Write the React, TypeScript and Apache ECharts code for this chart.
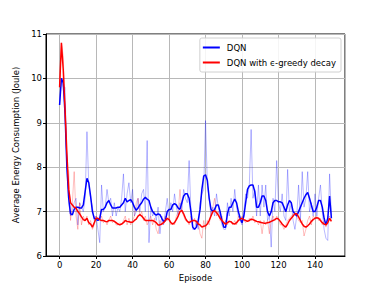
import React, { useEffect, useRef } from "react";
import * as echarts from "echarts";

const dqnRaw = [
  9.4, 10.0, 9.8, 9.8, 8.0, 7.2, 6.9, 7.0, 7.2, 7.3, 6.7, 7.2, 7.1, 7.0, 7.3, 8.8, 7.6, 7.3, 7.1, 6.8,
  6.9, 6.6, 6.3, 7.6, 7.0, 7.1, 7.5, 7.2, 7.3, 6.9, 7.2, 6.9, 7.1, 7.0, 7.3, 7.85, 7.0, 7.4, 7.65, 7.2,
  7.5, 6.9, 7.0, 7.3, 7.0, 7.4, 7.5, 7.0, 8.6, 6.3, 7.1, 6.9, 7.0, 6.8, 7.1, 6.5, 6.9, 6.7, 7.0, 7.3,
  6.9, 7.2, 7.0, 7.4, 7.1, 6.9, 7.2, 7.0, 7.5, 7.3, 7.2, 8.15, 7.0, 6.6, 6.6, 6.8, 6.6, 7.2, 7.4, 7.5,
  9.05, 7.6, 7.3, 6.9, 7.1, 6.9, 7.4, 7.1, 6.9, 6.7, 6.6, 6.6, 7.2, 6.9, 7.3, 7.0, 7.5, 7.1, 6.9, 6.8,
  6.7, 7.0, 7.4, 7.3, 7.6, 8.85, 7.3, 7.5, 6.9, 7.6, 6.9, 7.6, 7.1, 7.6, 6.8, 6.9, 6.2, 7.3, 7.0, 8.15,
  7.2, 7.0, 7.4, 6.9, 6.8, 7.95, 7.0, 7.2, 6.8, 6.6, 6.9, 7.6, 6.8, 7.9, 7.1, 7.3, 7.9, 7.0, 7.2, 6.9,
  7.4, 6.9, 7.3, 7.6, 7.0, 6.6, 6.4, 6.35, 7.85, 6.9,
];

const dqnSmooth = [
  9.4, 10.0, 9.9, 9.2, 8.0, 7.3, 6.95, 6.93, 7.05, 7.1, 7.1, 7.08, 7.08, 7.15, 7.45, 7.75, 7.65, 7.35, 7.0, 6.85,
  6.83, 6.8, 6.85, 7.05, 7.05, 7.1, 7.2, 7.25, 7.15, 7.08, 7.08, 7.08, 7.1, 7.1, 7.15, 7.2, 7.3, 7.22, 7.25, 7.27,
  7.2, 7.1, 7.03, 7.08, 7.15, 7.2, 7.28, 7.32, 7.28, 7.25, 7.1, 7.0, 6.95, 6.92, 6.95, 6.93, 6.85, 6.78, 6.8, 7.0,
  7.05, 7.05, 7.15, 7.18, 7.15, 7.08, 7.05, 7.2, 7.35, 7.4, 7.4, 7.3, 7.0, 6.65, 6.6, 6.65, 6.8, 7.05, 7.5, 7.8,
  7.83, 7.7, 7.3, 7.05, 7.0, 7.05, 7.15, 7.15, 7.0, 6.8, 6.65, 6.65, 6.95, 7.1, 7.1, 7.2, 7.28, 7.2, 7.0, 6.85,
  6.75, 6.9, 7.2, 7.5, 7.58, 7.6, 7.6, 7.45, 7.1, 7.1, 7.2, 7.35, 7.35, 7.25, 7.0, 6.9, 7.0, 7.2, 7.25, 7.25,
  7.22, 7.22, 7.2, 7.1, 7.0, 7.15, 7.25, 7.2, 7.0, 6.95, 6.9, 7.0, 7.1, 7.2, 7.3, 7.38, 7.43, 7.3, 7.15, 7.0,
  7.0, 7.1, 7.25, 7.25, 7.1, 6.85, 6.7, 6.85, 7.35, 6.85,
];

const decayRaw = [
  9.8, 10.8, 10.5, 9.2, 8.0, 7.9, 6.8, 7.2, 7.9, 6.9, 6.6, 7.2, 6.7, 6.9, 6.8, 6.9, 6.7, 6.8, 6.6, 6.7,
  6.9, 6.8, 6.8, 6.9, 6.75, 6.8, 6.7, 6.8, 6.9, 6.75, 6.8, 6.7, 6.7, 6.75, 6.7, 6.8, 6.9, 6.7, 6.85, 6.7,
  6.8, 6.9, 7.2, 7.3, 6.9, 7.0, 6.8, 6.9, 6.7, 6.8, 6.9, 6.7, 6.85, 6.6, 6.5, 6.8, 6.7, 6.8, 6.9, 6.8,
  6.9, 6.7, 6.75, 6.7, 6.9, 7.0, 7.5, 7.0, 6.9, 6.8, 6.8, 6.7, 6.9, 6.75, 6.85, 6.7, 6.8, 6.5, 6.4, 6.8,
  6.6, 6.8, 6.7, 7.0, 7.1, 7.3, 6.9, 7.0, 6.8, 6.9, 6.7, 6.8, 6.7, 6.8, 6.75, 6.7, 6.8, 6.7, 6.9, 6.8,
  6.9, 6.8, 6.75, 6.8, 6.85, 6.8, 6.9, 6.75, 6.8, 6.7, 6.8, 6.5, 6.8, 6.7, 6.8, 6.5, 6.8, 6.9, 6.8, 6.9,
  6.85, 6.7, 6.7, 6.6, 6.7, 6.8, 6.85, 6.9, 6.95, 7.0, 6.9, 6.8, 6.75, 6.8, 6.45, 6.6, 6.8, 6.9, 6.7, 6.9,
  6.85, 6.9, 6.8, 6.85, 6.7, 6.8, 6.65, 6.8, 6.9, 6.8,
];

const decaySmooth = [
  9.8, 10.8, 10.2, 9.3, 8.3, 7.5, 7.2, 7.15, 7.1, 7.08, 7.0, 6.95, 6.88, 6.82, 6.8, 6.85, 6.75, 6.72, 6.65, 6.75,
  6.85, 6.85, 6.82, 6.8, 6.8, 6.78, 6.77, 6.8, 6.8, 6.8, 6.78, 6.75, 6.72, 6.7, 6.72, 6.75, 6.8, 6.78, 6.77, 6.76,
  6.76, 6.8, 6.83, 6.9, 6.93, 6.9, 6.85, 6.8, 6.8, 6.8, 6.8, 6.8, 6.78, 6.75, 6.7, 6.7, 6.72, 6.75, 6.8, 6.85,
  6.82, 6.75, 6.72, 6.75, 6.82, 6.9, 7.0, 7.03, 6.95, 6.85, 6.78, 6.75, 6.78, 6.8, 6.8, 6.78, 6.72, 6.7, 6.65, 6.67,
  6.68, 6.72, 6.8, 6.9, 7.0, 7.02, 6.98, 6.92, 6.85, 6.8, 6.75, 6.72, 6.75, 6.78, 6.77, 6.73, 6.72, 6.75, 6.8, 6.83,
  6.85, 6.82, 6.8, 6.78, 6.8, 6.83, 6.82, 6.8, 6.78, 6.77, 6.76, 6.75, 6.74, 6.74, 6.75, 6.76, 6.78, 6.8, 6.82, 6.85,
  6.83, 6.78, 6.72, 6.68, 6.65, 6.72, 6.8, 6.85, 6.9, 6.95, 6.95, 6.88, 6.8, 6.72, 6.67, 6.65, 6.68, 6.72, 6.78, 6.82,
  6.85, 6.86, 6.85, 6.8, 6.75, 6.72, 6.7, 6.75, 6.85, 6.78,
];

const seriesNames = ["DQN", "DQN with \u03f5-greedy decay"];
const xTitle = "Episode";
const yTitle = "Average Energy Consumption (Joule)";

const toPairs = (arr: number[]) => arr.map((v, i) => [i, v]);

export default function App() {
  const ref = useRef<HTMLDivElement>(null);
  useEffect(() => {
    if (!ref.current) return;
    const chart = echarts.init(ref.current, null, { renderer: "svg" });
    const font = "DejaVu Sans";
    const lineStyleBase = { type: "line" as const, showSymbol: false, symbol: "none", silent: true };
    chart.setOption({
      animation: false,
      textStyle: { fontFamily: font },
      grid: {
        left: 46,
        right: 39,
        top: 34,
        bottom: 32,
        show: true,
        borderColor: "#000",
        borderWidth: 1,
        backgroundColor: "transparent",
      },
      legend: {
        data: seriesNames.map((n) => ({ name: n, icon: "rect" })),
        orient: "vertical",
        right: 43,
        top: 38,
        itemWidth: 17,
        itemHeight: 2,
        itemGap: 6,
        padding: [5, 5, 5, 3],
        backgroundColor: "rgba(255,255,255,0.85)",
        borderColor: "#d0d0d0",
        borderWidth: 1,
        borderRadius: 2,
        textStyle: { fontFamily: font, fontSize: 8.5, color: "#000", padding: [0, 0, 0, 2] },
      },
      xAxis: {
        type: "value",
        min: -7.45,
        max: 156.45,
        splitNumber: 8,
        name: xTitle,
        nameLocation: "middle",
        nameGap: 14,
        nameTextStyle: { fontFamily: font, fontSize: 8.5, color: "#000" },
        axisLine: { show: true, onZero: false, lineStyle: { color: "#000", width: 1 } },
        axisTick: { show: true, length: 3, lineStyle: { color: "#000" } },
        axisLabel: {
          showMinLabel: false,
          showMaxLabel: false,
          fontFamily: font,
          fontSize: 8.5,
          color: "#000",
          margin: 4,
        },
        splitLine: { show: true, lineStyle: { color: "#b8b8b8", width: 1 } },
      },
      yAxis: {
        type: "value",
        min: 6,
        max: 11,
        interval: 1,
        name: yTitle,
        nameLocation: "middle",
        nameGap: 20,
        nameTextStyle: { fontFamily: font, fontSize: 8.5, color: "#000" },
        axisLine: { show: true, onZero: false, lineStyle: { color: "#000", width: 1 } },
        axisTick: { show: true, length: 3, lineStyle: { color: "#000" } },
        axisLabel: { fontFamily: font, fontSize: 8.5, color: "#000", margin: 4 },
        splitLine: { show: true, lineStyle: { color: "#b8b8b8", width: 1 } },
      },
      series: [
        {
          ...lineStyleBase,
          name: "DQN raw",
          data: toPairs(dqnRaw),
          lineStyle: { color: "#0000ff", width: 1, opacity: 0.28 },
          z: 1,
        },
        {
          ...lineStyleBase,
          name: "decay raw",
          data: toPairs(decayRaw),
          lineStyle: { color: "#ff0000", width: 1, opacity: 0.25 },
          z: 1,
        },
        {
          ...lineStyleBase,
          name: seriesNames[0],
          data: toPairs(dqnSmooth),
          itemStyle: { color: "#0000ff" },
          lineStyle: { color: "#0000ff", width: 1.5 },
          z: 3,
        },
        {
          ...lineStyleBase,
          name: seriesNames[1],
          data: toPairs(decaySmooth),
          itemStyle: { color: "#ff0000" },
          lineStyle: { color: "#ff0000", width: 1.5 },
          z: 4,
        },
      ],
    });
    return () => chart.dispose();
  }, []);
  return <div ref={ref} style={{ width: 384, height: 288, position: "absolute", left: 0, top: 0 }} />;
}
